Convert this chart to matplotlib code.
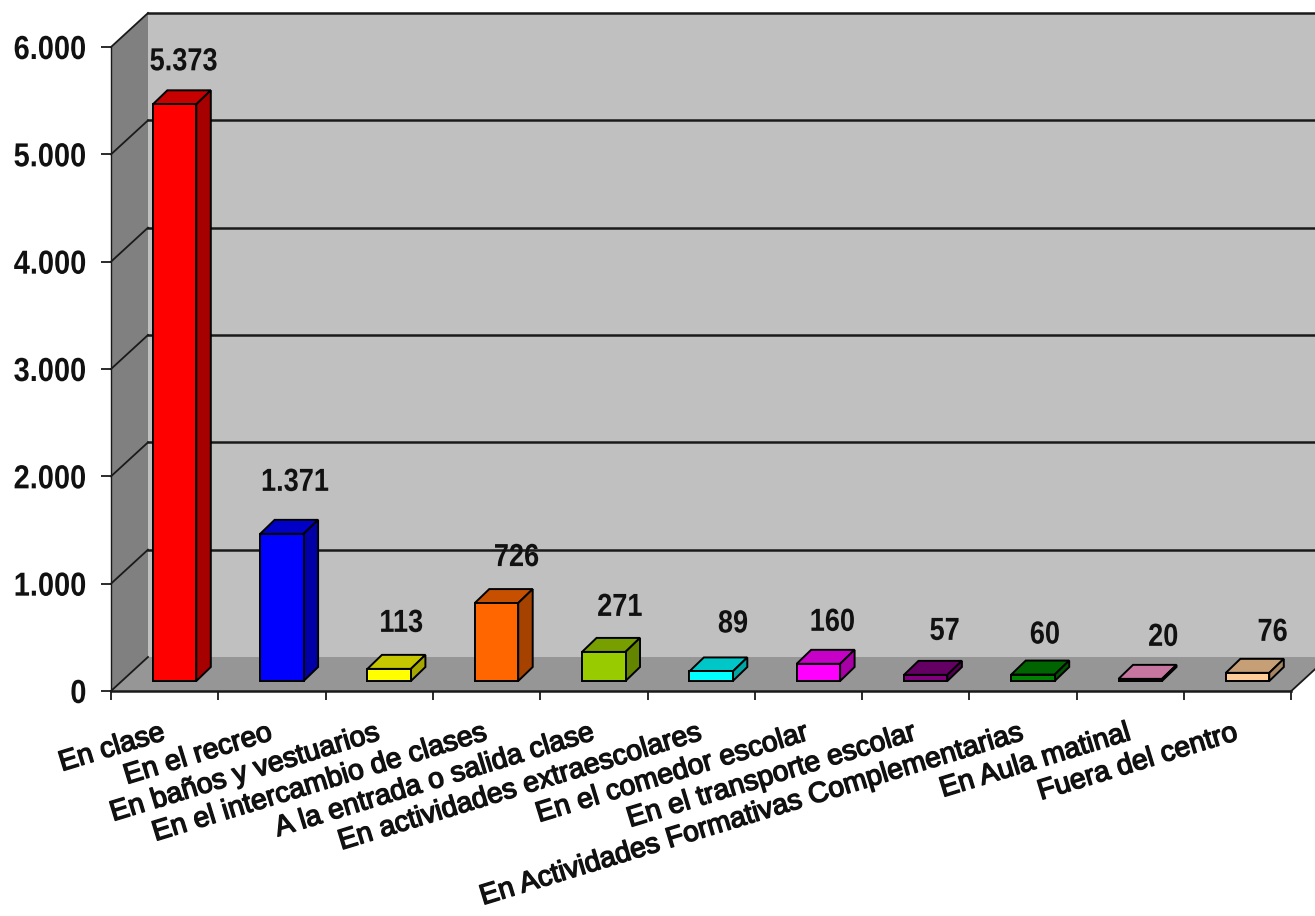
import matplotlib
matplotlib.use('Agg')
import matplotlib.pyplot as plt
import matplotlib.patheffects as pe
from matplotlib.patches import Polygon
from matplotlib.colors import to_rgb
from matplotlib.transforms import Affine2D

categories = ['En clase', 'En el recreo', 'En baños y vestuarios', 'En el intercambio de clases',
              'A la entrada o salida clase', 'En actividades extraescolares', 'En el comedor escolar',
              'En el transporte escolar', 'En Actividades Formativas Complementarias',
              'En Aula matinal', 'Fuera del centro']
values = [5373, 1371, 113, 726, 271, 89, 160, 57, 60, 20, 76]
value_labels = ['5.373', '1.371', '113', '726', '271', '89', '160', '57', '60', '20', '76']
y_ticks = [0, 1000, 2000, 3000, 4000, 5000, 6000]
y_tick_labels = ['0', '1.000', '2.000', '3.000', '4.000', '5.000', '6.000']
bar_colors = ['#ff0000', '#0000ff', '#ffff00', '#ff6600', '#99cc00', '#00ffff',
              '#ff00ff', '#800080', '#008000', '#ff99cc', '#ffcc99']

# value label offsets from the bar centre, in pixels
label_dx = [9, 13, 12, 20, 16, 22, 14, 19, 12, 23, 25]
label_dy = [42, 51, 45, 45, 44, 47, 41, 43, 39, 41, 40]

plt.rcParams['font.family'] = ['Liberation Sans', 'DejaVu Sans']


class Narrow(pe.AbstractPathEffect):
    # the numbers in the picture are bold but condensed, no narrow font here
    def __init__(self, sx, anchor):
        super().__init__()
        self.sx = sx
        self.anchor = anchor

    def draw_path(self, renderer, gc, tpath, affine, rgbFace=None):
        e = tpath.get_extents()
        c = e.x1 if self.anchor == 'right' else (e.x0 + e.x1) / 2
        squeeze = Affine2D().translate(-c, 0).scale(self.sx, 1).translate(c, 0)
        renderer.draw_path(gc, tpath, squeeze + affine, rgbFace)


W, H = 1315, 916
x0_px, y0_px = 111, 691      # where the front corner of the chart sits
cat_px = 107.3
k_px = 0.10733               # pixels per unit of value

fig = plt.figure(figsize=(W / 100, H / 100), dpi=100)
ax = fig.add_axes([x0_px / W, (H - y0_px) / H, (W - x0_px) / W, y0_px / H])
ax.set_xlim(0, (W - x0_px) / cat_px)
ax.set_ylim(0, y0_px / k_px)
ax.patch.set_visible(False)

depth_x = 37 / cat_px
depth_y = 34 / k_px
xmax = 11
xend = ax.get_xlim()[1] + 1
top = 6000

line_c = '#1a1a1a'
ax.add_patch(Polygon([(0, 0), (0, top), (depth_x, top + depth_y), (depth_x, depth_y)],
                     fc='#808080', ec='none', zorder=1))
ax.add_patch(Polygon([(depth_x, depth_y), (depth_x, top + depth_y), (xend, top + depth_y), (xend, depth_y)],
                     fc='#c0c0c0', ec='none', zorder=1))
ax.add_patch(Polygon([(0, 0), (xmax, 0), (xmax + depth_x, depth_y), (depth_x, depth_y)],
                     fc='#969696', ec='none', zorder=1))

for t in y_ticks:
    ax.plot([0, depth_x], [t, t + depth_y], color=line_c, lw=1.3, zorder=2, clip_on=False)
    if t > 0:
        ax.plot([depth_x, xend], [t + depth_y, t + depth_y], color=line_c, lw=1.8, zorder=2)
ax.plot([xmax, xmax + depth_x], [0, depth_y], color=line_c, lw=1.3, zorder=2)

# bars: front face plus a top and side face in darker shades
bar_off = 0.39
bar_w = 0.405
bar_dx = 14.5 / cat_px
bar_dy = 14 / k_px
base = 10 / k_px


def shade(c, f):
    return tuple(v * f for v in to_rgb(c))


xs = [i + bar_off for i in range(len(values))]
tops = [base + v for v in values]
ax.bar(xs, values, width=bar_w, bottom=base, align='edge', color=bar_colors,
       edgecolor='black', linewidth=1.4, zorder=4)
for x, t, c in zip(xs, tops, bar_colors):
    r = x + bar_w
    ax.add_patch(Polygon([(x, t), (r, t), (r + bar_dx, t + bar_dy), (x + bar_dx, t + bar_dy)],
                         fc=shade(c, 0.78), ec='black', lw=1.4, zorder=3))
    ax.add_patch(Polygon([(r, base), (r + bar_dx, base + bar_dy), (r + bar_dx, t + bar_dy), (r, t)],
                         fc=shade(c, 0.65), ec='black', lw=1.4, zorder=3))

for x, t, lab, dx, dy in zip(xs, tops, value_labels, label_dx, label_dy):
    ax.annotate(lab, (x + bar_w / 2, t), xytext=(dx * 0.72, dy * 0.72), textcoords='offset points',
                ha='center', va='center', fontsize=23, fontweight='bold', color='#111111', zorder=6,
                path_effects=[Narrow(0.85, 'center')])

for s in ['top', 'right']:
    ax.spines[s].set_visible(False)
ax.spines['left'].set_bounds(0, top)
ax.spines['bottom'].set_bounds(0, xmax)
ax.spines['left'].set_linewidth(1.0)
ax.spines['bottom'].set_linewidth(1.8)
ax.spines['left'].set_color(line_c)
ax.spines['bottom'].set_color(line_c)

ax.set_yticks(y_ticks)
ax.set_yticklabels(y_tick_labels, fontsize=24, fontweight='bold', color='#111111',
                   path_effects=[Narrow(0.87, 'right')])
ax.tick_params(axis='y', length=7, width=1.3, pad=10.5, color=line_c)

ax.set_xticks(range(xmax + 1))
ax.set_xticklabels([])
ax.tick_params(axis='x', which='major', length=6.5, width=1.3, color=line_c)
ax.set_xticks([i + 0.46 for i in range(xmax)], minor=True)
ax.set_xticklabels(categories, minor=True, rotation=17, ha='right', va='top',
                   rotation_mode='anchor', fontsize=20.5, color='#111111',
                   path_effects=[pe.withStroke(linewidth=1.0, foreground='#111111')])
ax.tick_params(axis='x', which='minor', length=0, pad=21)

fig.savefig('out.png', dpi=100)
